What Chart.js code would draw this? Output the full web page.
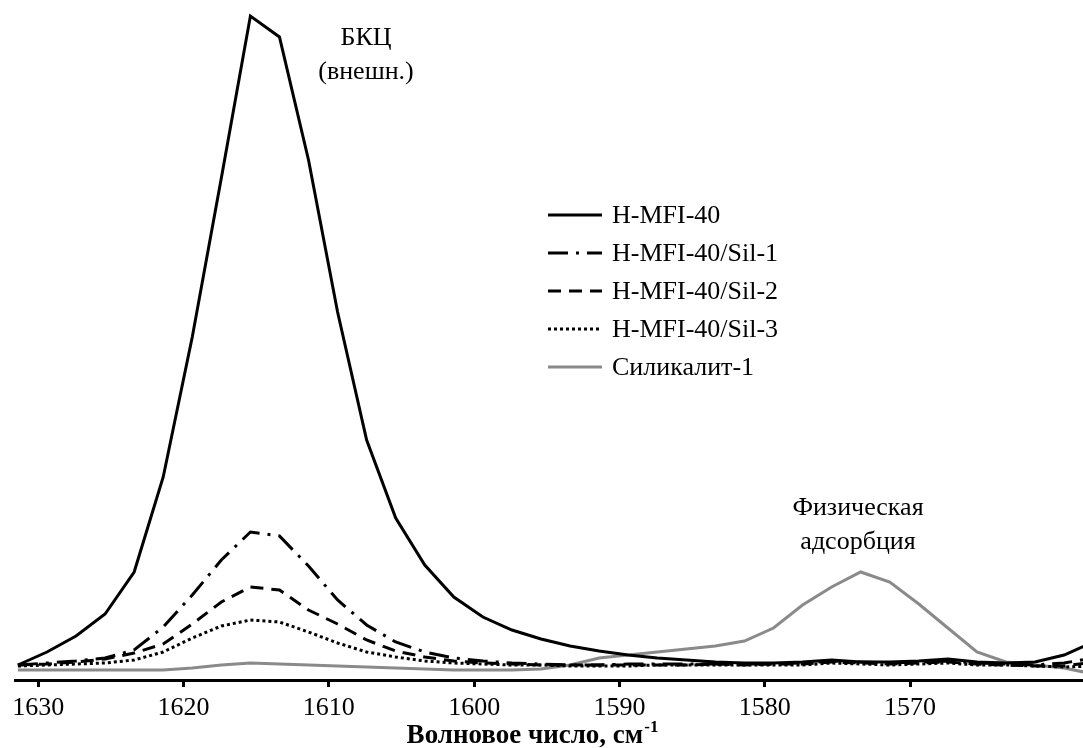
<!DOCTYPE html>
<html>
<head>
<meta charset="utf-8">
<script src="https://cdn.jsdelivr.net/npm/chart.js@4.4.1/dist/chart.umd.min.js"></script>
<style>
html, body { margin: 0; padding: 0; background: #fff; }
#wrap { width: 1083px; height: 748px; }
</style>
</head>
<body>
<div id="wrap"><canvas id="irChart"></canvas></div>
<script>
// волновые числа, см-1 (шаг ~2)
const wavenumbers = [1631.4, 1629.4, 1627.4, 1625.4, 1623.4, 1621.4, 1619.4, 1617.4, 1615.4, 1613.4,
    1611.4, 1609.4, 1607.4, 1605.4, 1603.4, 1601.4, 1599.4, 1597.4, 1595.4, 1593.4,
    1591.4, 1589.4, 1587.4, 1585.4, 1583.4, 1581.4, 1579.4, 1577.4, 1575.4, 1573.4,
    1571.4, 1569.4, 1567.4, 1565.4, 1563.4, 1561.4, 1559.4, 1557.4];

const hmfi40 = [0.015, 0.028, 0.044, 0.066, 0.108, 0.203, 0.343, 0.502, 0.664, 0.643,
    0.520, 0.368, 0.240, 0.162, 0.115, 0.083, 0.063, 0.050, 0.041, 0.034,
    0.029, 0.025, 0.022, 0.020, 0.018, 0.017, 0.017, 0.018, 0.020, 0.018,
    0.018, 0.019, 0.021, 0.018, 0.017, 0.018, 0.025, 0.038];

const sil1 = [0.015, 0.017, 0.019, 0.022, 0.030, 0.053, 0.085, 0.120, 0.148, 0.144,
    0.114, 0.080, 0.055, 0.038, 0.028, 0.022, 0.019, 0.017, 0.016, 0.015,
    0.015, 0.016, 0.016, 0.016, 0.016, 0.016, 0.016, 0.017, 0.019, 0.018,
    0.017, 0.018, 0.019, 0.017, 0.016, 0.015, 0.017, 0.022];

const sil2 = [0.015, 0.016, 0.018, 0.021, 0.027, 0.036, 0.056, 0.078, 0.093, 0.090,
    0.070, 0.056, 0.040, 0.029, 0.023, 0.019, 0.017, 0.016, 0.015, 0.015,
    0.015, 0.015, 0.015, 0.015, 0.016, 0.015, 0.016, 0.016, 0.018, 0.017,
    0.016, 0.017, 0.018, 0.016, 0.015, 0.014, 0.014, 0.018];

const sil3 = [0.014, 0.015, 0.016, 0.017, 0.020, 0.028, 0.042, 0.054, 0.060, 0.058,
    0.048, 0.037, 0.028, 0.023, 0.019, 0.017, 0.016, 0.015, 0.015, 0.014,
    0.014, 0.014, 0.015, 0.015, 0.015, 0.015, 0.015, 0.015, 0.017, 0.016,
    0.015, 0.016, 0.017, 0.015, 0.015, 0.014, 0.013, 0.014];

const silicalite = [0.010, 0.010, 0.010, 0.010, 0.010, 0.010, 0.012, 0.015, 0.017, 0.016,
    0.015, 0.014, 0.013, 0.012, 0.011, 0.010, 0.010, 0.010, 0.011, 0.015,
    0.022, 0.025, 0.028, 0.031, 0.034, 0.039, 0.052, 0.075, 0.093, 0.108,
    0.098, 0.076, 0.052, 0.028, 0.018, 0.015, 0.012, 0.006];

const seriesLabels = ['H-MFI-40', 'H-MFI-40/Sil-1', 'H-MFI-40/Sil-2', 'H-MFI-40/Sil-3', 'Силикалит-1'];
const tickValues = [1630, 1620, 1610, 1600, 1590, 1580, 1570];

const serif = "'Liberation Serif', 'Times New Roman', serif";

function toPoints(arr) {
    return arr.map((v, i) => ({ x: wavenumbers[i], y: v }));
}

const styles = [
    { color: '#000000', dash: [] },
    { color: '#000000', dash: [20, 8, 3, 8] },
    { color: '#000000', dash: [13, 8] },
    { color: '#000000', dash: [3, 3] },
    { color: '#8a8a8a', dash: [] }
];
const seriesData = [hmfi40, sil1, sil2, sil3, silicalite];

// Легенда справа от пика
const legendPlugin = {
    id: 'sideLegend',
    afterDraw(chart) {
        const ctx = chart.ctx;
        ctx.save();
        ctx.font = '26px ' + serif;
        ctx.textBaseline = 'middle';
        ctx.fillStyle = '#000';
        chart.data.datasets.forEach((ds, i) => {
            const y = 215 + i * 38;
            ctx.beginPath();
            ctx.strokeStyle = ds.borderColor;
            ctx.lineWidth = ds.borderWidth;
            ctx.setLineDash(ds.borderDash);
            ctx.moveTo(548, y);
            ctx.lineTo(602, y);
            ctx.stroke();
            ctx.setLineDash([]);
            ctx.fillText(ds.label, 612, y + 1);
        });
        ctx.restore();
    }
};

// Подписи полос и название оси
const notesPlugin = {
    id: 'notes',
    afterDraw(chart) {
        const ctx = chart.ctx;
        ctx.save();
        ctx.font = '26px ' + serif;
        ctx.textAlign = 'center';
        ctx.textBaseline = 'middle';
        ctx.fillStyle = '#000';
        ctx.fillText('БКЦ', 366, 38);
        ctx.fillText('(внешн.)', 366, 72);
        ctx.fillText('Физическая', 858, 508);
        ctx.fillText('адсорбция', 858, 542);

        // подпись оси X с верхним индексом
        const main = 'Волновое число, см';
        const sup = '-1';
        ctx.textAlign = 'left';
        ctx.textBaseline = 'alphabetic';
        ctx.font = 'bold 27px ' + serif;
        const w1 = ctx.measureText(main).width;
        ctx.font = 'bold 17px ' + serif;
        const w2 = ctx.measureText(sup).width;
        const x0 = 532 - (w1 + w2) / 2;
        ctx.font = 'bold 27px ' + serif;
        ctx.fillText(main, x0, 743);
        ctx.font = 'bold 17px ' + serif;
        ctx.fillText(sup, x0 + w1 + 1, 732);
        ctx.restore();
    }
};

new Chart(document.getElementById('irChart'), {
    type: 'line',
    data: {
        datasets: seriesData.map((arr, i) => ({
            label: seriesLabels[i],
            data: toPoints(arr),
            borderColor: styles[i].color,
            borderDash: styles[i].dash,
            borderWidth: 3,
            pointRadius: 0,
            tension: 0,
            fill: false
        }))
    },
    options: {
        responsive: true,
        maintainAspectRatio: false,
        animation: false,
        layout: { padding: { left: 15, right: 0, top: 10, bottom: 0 } },
        plugins: { legend: { display: false }, tooltip: { enabled: false } },
        scales: {
            x: {
                type: 'linear',
                reverse: true,
                min: 1558.1,
                max: 1631.6,
                afterBuildTicks: s => { s.ticks = tickValues.map(v => ({ value: v })); },
                afterFit: s => { s.height = 68; },
                border: { display: true, color: '#000', width: 3 },
                grid: { drawOnChartArea: false, drawTicks: true, tickLength: 7, tickWidth: 3, tickColor: '#000' },
                ticks: {
                    color: '#000',
                    font: { family: serif, size: 26 },
                    padding: 6,
                    maxRotation: 0,
                    callback: v => String(v)
                },
                title: { display: false }
            },
            y: {
                display: false,
                min: 0,
                max: 0.67
            }
        }
    },
    plugins: [legendPlugin, notesPlugin]
});
</script>
</body>
</html>
